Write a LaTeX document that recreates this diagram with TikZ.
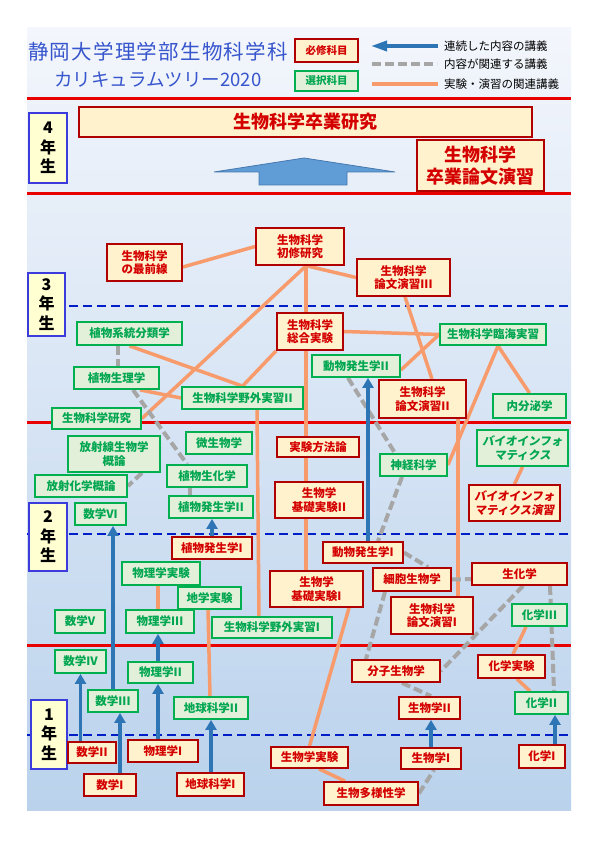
\documentclass[tikz,border=0pt]{standalone}
\usepackage{fontspec}
\setmainfont{Noto Sans CJK JP}
\usetikzlibrary{arrows.meta}
\definecolor{reqborder}{RGB}{176,0,0}
\definecolor{reqfill}{RGB}{255,242,204}
\definecolor{reqtext}{RGB}{212,0,0}
\definecolor{eleborder}{RGB}{0,176,80}
\definecolor{elefill}{RGB}{226,240,217}
\definecolor{eletext}{RGB}{0,166,80}
\definecolor{yrborder}{RGB}{60,60,220}
\definecolor{yrfill}{RGB}{255,255,210}
\definecolor{arrowblue}{RGB}{46,117,182}
\definecolor{dashgray}{RGB}{166,166,166}
\definecolor{orng}{RGB}{247,155,108}
\definecolor{yearred}{RGB}{232,0,0}
\definecolor{yearblue}{RGB}{0,30,200}
\definecolor{titleblue}{RGB}{55,85,205}
\definecolor{bigblue}{RGB}{96,156,214}
\definecolor{bigblueb}{RGB}{70,120,175}
\definecolor{bgtop}{RGB}{243,246,252}
\definecolor{bgbot}{RGB}{186,210,236}
\pgfdeclarelayer{bg}\pgfdeclarelayer{mid}\pgfsetlayers{bg,mid,main}
\newcommand\mybox[7]{\node[#1, minimum width={#5-#3}, minimum height={#6-#4}] (#2) at ({(#3+#5)/2},{(#4+#6)/2}) {#7};}
\begin{document}
\begin{tikzpicture}[x=1pt,y=-1pt,
  box/.style={draw, line width=1.8pt, inner sep=0pt, align=center, font=\fontsize{11.5}{13.5}\selectfont\bfseries},
  req/.style={box, draw=reqborder, fill=reqfill, text=reqtext},
  ele/.style={box, draw=eleborder, fill=elefill, text=eletext},
  slanted/.style={font=\fontsize{11.5}{13.5}\selectfont\bfseries\addfontfeature{FakeSlant=0.15}},
  legfont/.style={font=\fontsize{10.5}{12}\selectfont\bfseries},
  yr/.style={draw=yrborder, fill=yrfill, line width=1.6pt, inner sep=0pt, align=center, font=\fontsize{16}{19.5}\selectfont\bfseries, text=black},
  big/.style={req, font=\fontsize{18}{22}\selectfont\bfseries},
  oline/.style={draw=orng, line width=3.5pt},
  gline/.style={draw=dashgray, line width=4pt, dash pattern=on 9pt off 4pt},
  barrow/.style={draw=arrowblue, line width=3.5pt, -{Triangle[length=10pt,width=11pt]}},
  redline/.style={draw=yearred, line width=3pt},
  blueline/.style={draw=yearblue, line width=2.5pt, dash pattern=on 9pt off 5pt},
  legtext/.style={anchor=west, inner sep=0pt, font=\fontsize{11.5}{13}\selectfont},
  titletext/.style={text=titleblue, inner sep=0pt}
]
\useasboundingbox (0,0) rectangle (596,842);
\begin{pgfonlayer}{bg}
\fill[white] (0,0) rectangle (596,842);
\fill[top color=bgtop, bottom color=bgbot] (27,28) rectangle (571,810);
\draw[redline] (27,99) -- (571,99);
\draw[redline] (27,194) -- (571,194);
\draw[redline] (27,422) -- (571,422);
\draw[redline] (27,645) -- (571,645);
\draw[blueline] (27,306) -- (571,306);
\draw[blueline] (27,534) -- (571,534);
\draw[blueline] (27,735) -- (571,735);
\end{pgfonlayer}

% title
\node[titletext, font=\fontsize{20.5}{24}\selectfont\addfontfeature{LetterSpace=6}] (t1) at (158,52) {静岡大学理学部生物科学科};
\node[titletext, font=\fontsize{18.5}{22}\selectfont] (t2) at (158,80) {カリキュラムツリー2020};

% legend
\mybox{req,legfont}{lgreq}{295}{39}{358}{62}{必修科目}
\mybox{ele,legfont}{lgele}{295}{71}{358}{91}{選択科目}
\coordinate (la1) at (438,46); \coordinate (la2) at (371,46);
\coordinate (lg1) at (372,64); \coordinate (lg2) at (437,64);
\coordinate (lo1) at (372,84); \coordinate (lo2) at (438,84);
\draw[draw=arrowblue, line width=3.5pt, -{Triangle[length=16pt,width=10pt]}] (la1) -- (la2);
\draw[gline] (lg1) -- (lg2);
\draw[oline] (lo1) -- (lo2);
\node[legtext] (lt1) at (444,46.5) {連続した内容の講義};
\node[legtext] (lt2) at (444,64) {内容が関連する講義};
\node[legtext] (lt3) at (444,84) {実験・演習の関連講義};

% year 4
\mybox{yr}{y4}{29}{113}{67}{183}{4\\年\\生}
\mybox{big}{sotsuken}{79}{107}{532}{137}{生物科学卒業研究}
\mybox{big}{ronbunsotsu}{417}{140}{544}{191}{生物科学\\卒業論文演習}
\filldraw[fill=bigblue, draw=bigblueb, line width=0.8pt] (214,172) -- (304,158) -- (395,172) -- (347,172) -- (347,185) -- (259,185) -- (259,172) -- cycle;

% year 3
\mybox{yr}{y3}{28}{273}{65}{336}{3\\年\\生}
\mybox{req}{saizensen}{107}{244}{182}{281}{生物科学\\の最前線}
\mybox{req}{shoshu}{256}{228}{344}{265}{生物科学\\初修研究}
\mybox{req}{ronbun3}{357}{259}{450}{296}{生物科学\\論文演習III}
\mybox{ele}{keito}{77}{322}{182}{345}{植物系統分類学}
\mybox{req}{sogo}{277}{313}{343}{350}{生物科学\\総合実験}
\mybox{ele}{rinkai}{440}{324}{546}{345}{生物科学臨海実習}
\mybox{ele}{seiri}{74}{367}{159}{389}{植物生理学}
\mybox{ele}{dohatsu2}{312}{355}{400}{377}{動物発生学II}
\mybox{ele}{yagai2}{182}{387}{303}{409}{生物科学野外実習II}
\mybox{req}{ronbun2}{379}{380}{466}{418}{生物科学\\論文演習II}
\mybox{ele}{naibunpi}{493}{394}{566}{418}{内分泌学}
\mybox{ele}{kenkyu}{52}{408}{141}{429}{生物科学研究}

% year 2
\mybox{ele}{hoshasen}{68}{436}{160}{472}{放射線生物学\\概論}
\mybox{ele}{biseibutsu}{186}{432}{252}{454}{微生物学}
\mybox{req}{jikken}{277}{437}{359}{457}{実験方法論}
\mybox{ele}{shinkei}{380}{454}{447}{476}{神経科学}
\mybox{ele,slanted}{bioinfo}{477}{430}{568}{466}{バイオインフォ\\マティクス}
\mybox{ele}{shokuseika}{167}{465}{247}{487}{植物生化学}
\mybox{ele}{hoshakagaku}{35}{475}{127}{497}{放射化学概論}
\mybox{req}{kiso2}{275}{482}{363}{518}{生物学\\基礎実験II}
\mybox{req,slanted}{bioinfoen}{469}{485}{560}{521}{バイオインフォ\\マティクス演習}
\mybox{ele}{sugaku6}{75}{503}{126}{525}{数学VI}
\mybox{ele}{shokuhatsu2}{169}{496}{253}{518}{植物発生学II}
\mybox{yr}{y2}{29}{503}{67}{571}{2\\年\\生}
\mybox{req}{shokuhatsu1}{172}{537}{252}{559}{植物発生学I}
\mybox{req}{dohatsu1}{323}{542}{403}{563}{動物発生学I}
\mybox{ele}{butsurijikken}{122}{562}{200}{585}{物理学実験}
\mybox{req}{saibo}{373}{568}{451}{591}{細胞生物学}
\mybox{req}{seika}{472}{563}{567}{585}{生化学}
\mybox{req}{kiso1}{270}{571}{363}{607}{生物学\\基礎実験I}
\mybox{ele}{chigakujikken}{178}{587}{241}{609}{地学実験}
\mybox{req}{ronbun1}{391}{597}{473}{634}{生物科学\\論文演習I}
\mybox{ele}{kagaku3}{512}{604}{567}{626}{化学III}
\mybox{ele}{sugaku5}{55}{610}{105}{633}{数学V}
\mybox{ele}{butsuri3}{126}{610}{194}{633}{物理学III}
\mybox{ele}{yagai1}{212}{617}{332}{638}{生物科学野外実習I}

% year 1
\mybox{ele}{sugaku4}{55}{650}{106}{673}{数学IV}
\mybox{ele}{butsuri2}{128}{662}{193}{683}{物理学II}
\mybox{req}{bunshi}{352}{660}{440}{682}{分子生物学}
\mybox{req}{kagakujikken}{478}{655}{545}{678}{化学実験}
\mybox{ele}{sugaku3}{88}{690}{138}{712}{数学III}
\mybox{ele}{chikyu2}{174}{697}{248}{719}{地球科学II}
\mybox{req}{seibutsu2}{399}{697}{460}{719}{生物学II}
\mybox{ele}{kagaku2}{515}{692}{568}{714}{化学II}
\mybox{yr}{y1}{31}{700}{67}{769}{1\\年\\生}
\mybox{req}{sugaku2}{68}{742}{116}{763}{数学II}
\mybox{req}{butsuri1}{128}{740}{198}{762}{物理学I}
\mybox{req}{sugaku1}{84}{774}{136}{796}{数学I}
\mybox{req}{chikyu1}{177}{773}{244}{796}{地球科学I}
\mybox{req}{seibutsujikken}{271}{747}{348}{768}{生物学実験}
\mybox{req}{tayosei}{324}{782}{418}{805}{生物多様性学}
\mybox{req}{seibutsu1}{401}{748}{461}{769}{生物学I}
\mybox{req}{kagaku1}{519}{745}{565}{768}{化学I}

\begin{pgfonlayer}{mid}
% orange: experiments / exercises
\draw[oline] ([yshift=-4.5pt]saizensen.east) -- (shoshu.west);
\draw[oline] ([xshift=7pt]shoshu.south) -- (ronbun3.west);
\draw[oline] ([xshift=6pt]shoshu.south) -- ([xshift=-4pt]sogo.north);
\draw[oline] ([xshift=6pt]shoshu.south) -- (kenkyu.east);
\draw[oline] (keito.south) -- (yagai2.north);
\draw[oline] (sogo.south west) -- (yagai2.north);
\draw[oline] ([xshift=23.5pt]seiri.south) -- (yagai2.west);
\draw[oline] (sogo.east) -- (rinkai.west);
\draw[oline] (rinkai.west) -- ([yshift=-4pt]dohatsu2.east);
\draw[oline] ([xshift=1.5pt]ronbun3.south) -- ([xshift=9.5pt]ronbun2.north);
\draw[oline] ([xshift=5pt]rinkai.south) -- (naibunpi.north);
\draw[oline] ([xshift=5pt]rinkai.south) -- (shinkei.east);
\draw[oline] ([xshift=35.5pt]ronbun2.south) -- ([xshift=26pt]ronbun1.north);
\draw[oline] ([xshift=14.5pt]yagai2.south) -- ([xshift=-13pt]yagai1.north);
\draw[oline] ([xshift=-4pt]sogo.south) -- ([xshift=-12pt]jikken.north);
\draw[oline] ([xshift=-12pt]jikken.south) -- ([xshift=-13pt]kiso2.north);
\draw[oline] ([xshift=-13pt]kiso2.south) -- ([xshift=-10.5pt]kiso1.north);
\draw[oline] ([xshift=32.5pt]kiso1.south) -- (seibutsujikken.north);
\draw[oline] ([xshift=9.5pt]seibutsujikken.south) -- ([xshift=-26pt]tayosei.north);
\draw[oline] ([xshift=-3pt]butsurijikken.south) -- ([xshift=-2pt]butsuri3.north);
\draw[oline] ([xshift=-1.5pt]chigakujikken.south) -- ([xshift=-1pt]chikyu2.north);
\draw[oline] ([xshift=-13.5pt]kagaku3.south) -- ([xshift=1.5pt]kagakujikken.north);
\draw[oline] ([xshift=5.5pt]kagakujikken.south) -- ([xshift=-11.5pt]kagaku2.north);
\draw[oline] (bioinfo.south) -- (bioinfoen.north);
% gray dashed: related content
\draw[gline] ([xshift=-11.5pt]keito.south) -- ([xshift=1.5pt]seiri.north);
\draw[gline] ([xshift=16.5pt]seiri.south) -- ([xshift=-20pt]shokuseika.north);
\draw[gline] ([xshift=-17pt]shokuseika.south) -- ([xshift=-21pt]shokuhatsu2.north);
\draw[gline] ([xshift=28pt]hoshasen.south) -- (hoshakagaku.east);
\draw[gline] ([xshift=-8pt]dohatsu2.south) -- ([xshift=-18.5pt]shinkei.north);
\draw[gline] ([xshift=-11.5pt]shinkei.south) -- ([xshift=15pt]dohatsu1.north);
\draw[gline] (dohatsu1.east) -- ([xshift=16pt]saibo.north);
\draw[gline] (saibo.east) -- ([yshift=-5pt]seika.west);
\draw[gline] ([xshift=-27pt]saibo.south) -- ([xshift=-30pt]bunshi.north);
\draw[gline] ([xshift=3.5pt]seika.south) -- (bunshi.east);
\draw[gline] ([xshift=30.5pt]seika.south) -- ([xshift=12.5pt]kagaku2.north);
\draw[gline] ([xshift=6pt]bunshi.south) -- ([xshift=1.5pt]seibutsu2.north);
\draw[gline] (tayosei.east) -- ([xshift=3pt]seibutsu1.south);
% blue arrows: continuing content
\draw[barrow] ([xshift=-11.5pt]sugaku2.north) -- (sugaku4.south);
\draw[barrow] ([xshift=10pt]sugaku1.north) -- ([xshift=7pt]sugaku3.south);
\draw[barrow] (sugaku3.north) -- ([xshift=12.5pt]sugaku6.south);
\draw[barrow] ([xshift=-5pt]butsuri1.north) -- ([xshift=-2.5pt]butsuri2.south);
\draw[barrow] ([xshift=-2.5pt]butsuri2.north) -- ([xshift=-2pt]butsuri3.south);
\draw[barrow] ([xshift=0.5pt]chikyu1.north) -- (chikyu2.south);
\draw[barrow] (seibutsu1.north) -- ([xshift=1.5pt]seibutsu2.south);
\draw[barrow] ([xshift=13pt]kagaku1.north) -- ([xshift=13.5pt]kagaku2.south);
\draw[barrow] (shokuhatsu1.north) -- ([xshift=1pt]shokuhatsu2.south);
\draw[barrow] ([xshift=5pt]dohatsu1.north) -- ([xshift=12pt]dohatsu2.south);
\end{pgfonlayer}
\end{tikzpicture}
\end{document}
